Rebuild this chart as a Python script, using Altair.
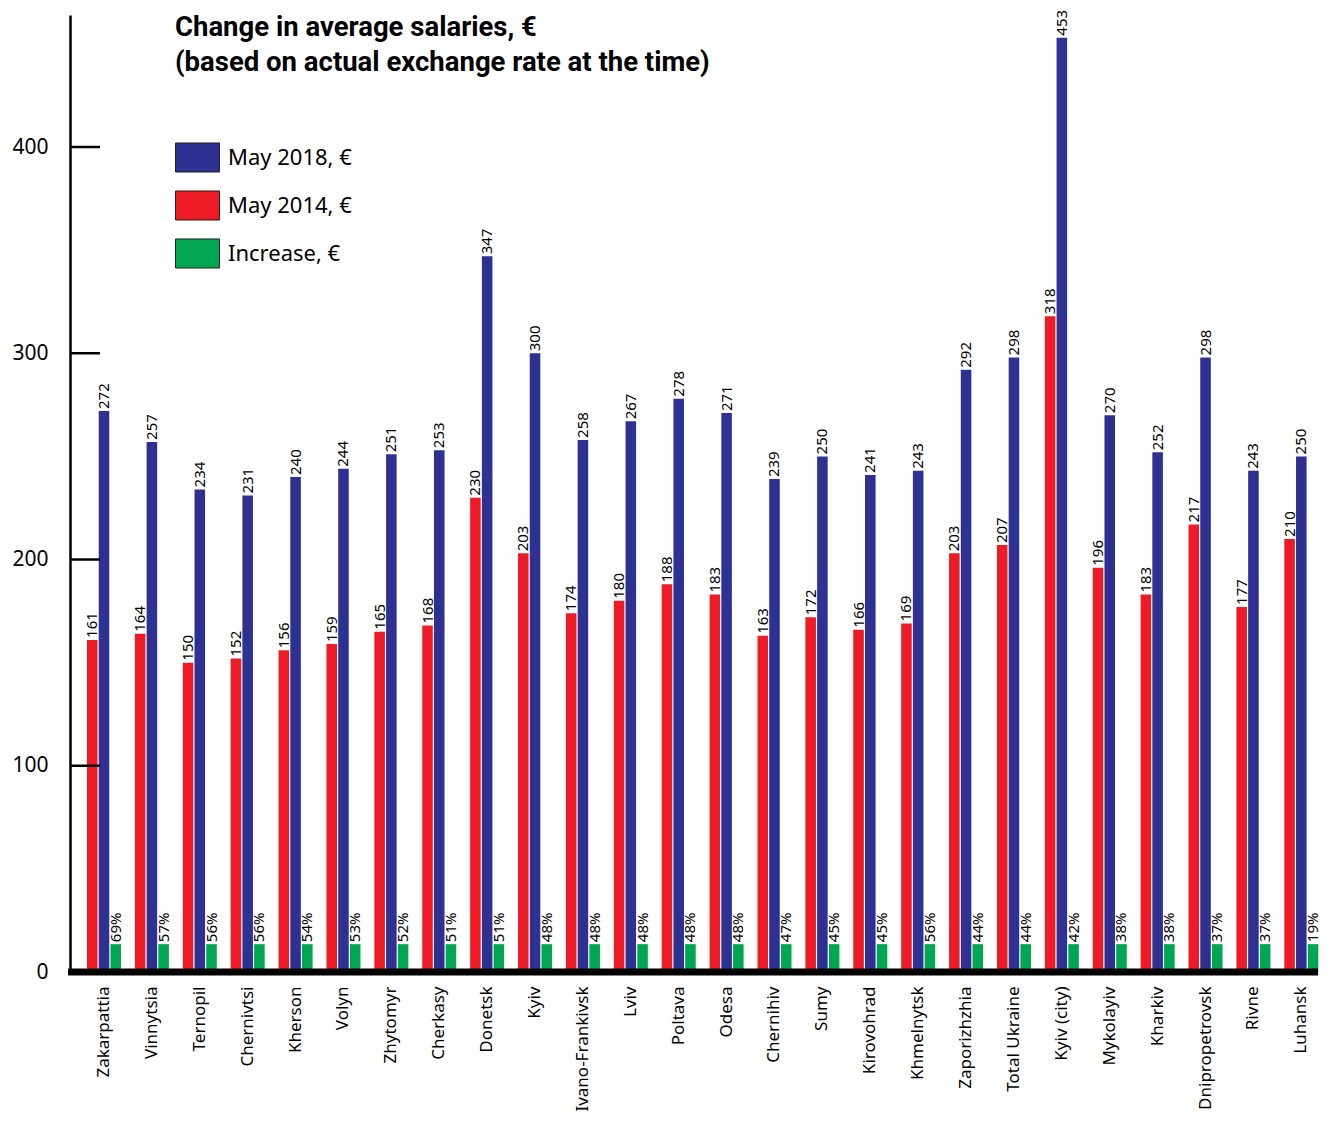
import altair as alt
import pandas as pd

regions = ["Zakarpattia", "Vinnytsia", "Ternopil", "Chernivtsi", "Kherson", "Volyn",
           "Zhytomyr", "Cherkasy", "Donetsk", "Kyiv", "Ivano-Frankivsk", "Lviv", "Poltava",
           "Odesa", "Chernihiv", "Sumy", "Kirovohrad", "Khmelnytsk", "Zaporizhzhia",
           "Total Ukraine", "Kyiv (city)", "Mykolayiv", "Kharkiv", "Dnipropetrovsk",
           "Rivne", "Luhansk"]
may2018 = [272, 257, 234, 231, 240, 244, 251, 253, 347, 300, 258, 267, 278, 271, 239,
           250, 241, 243, 292, 298, 453, 270, 252, 298, 243, 250]
may2014 = [161, 164, 150, 152, 156, 159, 165, 168, 230, 203, 174, 180, 188, 183, 163,
           172, 166, 169, 203, 207, 318, 196, 183, 217, 177, 210]
increase_pct = [69, 57, 56, 56, 54, 53, 52, 51, 51, 48, 48, 48, 48, 48, 47, 45, 45, 56,
                44, 44, 42, 38, 38, 37, 37, 19]
# green bars are drawn at one fixed height in the original
increase_bar = [13.5, 13.5, 13.5, 13.5, 13.5, 13.5, 13.5, 13.5, 13.5, 13.5, 13.5, 13.5, 13.5,
                13.5, 13.5, 13.5, 13.5, 13.5, 13.5, 13.5, 13.5, 13.5, 13.5, 13.5, 13.5, 13.5]
y_ticks = [0, 100, 200, 300, 400]
inner_ticks = [100, 200, 300, 400]
title_lines = ["Change in average salaries, €", "(based on actual exchange rate at the time)"]

S18, S14, SINC = "May 2018, €", "May 2014, €", "Increase, €"
legend_order = [S18, S14, SINC]
bar_order = [S14, S18, SINC]
colors = ["#2E3192", "#ED1C24", "#00A651"]

rows = []
for i, r in enumerate(regions):
    rows.append({"region": r, "series": S14, "value": may2014[i], "label": str(may2014[i])})
    rows.append({"region": r, "series": S18, "value": may2018[i], "label": str(may2018[i])})
    rows.append({"region": r, "series": SINC, "value": increase_bar[i], "label": f"{increase_pct[i]}%"})
df = pd.DataFrame(rows)

FONT = "Noto Sans"
TFONT = "Roboto"
W, H = 1250, 957

x_enc = alt.X("region:N", sort=regions, title=None,
              scale=alt.Scale(paddingInner=0.29, paddingOuter=0.195, align=0.91),
              axis=alt.Axis(domain=False, ticks=False, labelAngle=270, labelFontSize=17,
                            labelFont=FONT, labelColor="black", labelPadding=14,
                            labelOverlap=False, labelLimit=300))
xo_enc = alt.XOffset("series:N", sort=bar_order, scale=alt.Scale(paddingInner=0.1))
y_enc = alt.Y("value:Q", title=None, scale=alt.Scale(domain=[0, 464], nice=False, zero=True),
              axis=alt.Axis(values=y_ticks, grid=False, ticks=False, domain=True,
                            domainColor="black", domainWidth=2.5, labelFontSize=21,
                            labelFont=FONT, labelColor="black", labelPadding=22))

base = alt.Chart(df)

bars = base.mark_bar().encode(
    x=x_enc, xOffset=xo_enc, y=y_enc,
    color=alt.Color("series:N",
                    scale=alt.Scale(domain=legend_order, range=colors),
                    legend=alt.Legend(title=None, orient="none", legendX=105, legendY=120,
                                      symbolType="M-1,-0.66L1,-0.66L1,0.66L-1,0.66Z",
                                      symbolSize=1936, symbolStrokeWidth=1,
                                      symbolStrokeColor="#231f20", symbolOpacity=1,
                                      labelFontSize=22, labelFont=FONT, labelColor="black",
                                      labelOffset=8, rowPadding=8)),
)

labels = base.mark_text(angle=270, align="left", baseline="middle", dx=2,
                        fontSize=15, font=FONT, color="black").encode(
    x=x_enc, xOffset=xo_enc, y=y_enc, text="label:N")

ticks = alt.Chart(pd.DataFrame({"value": inner_ticks})).mark_rule(
    color="black", strokeWidth=2.5).encode(y=y_enc, x=alt.value(0), x2=alt.value(30))

baseline = alt.Chart(pd.DataFrame({"value": [0]})).mark_rule(
    color="black", strokeWidth=7).encode(y=y_enc, x=alt.value(-2), x2=alt.value(1248))

one = pd.DataFrame({"a": [0]})
t1 = alt.Chart(one).mark_text(align="left", baseline="alphabetic", fontSize=27.5,
                              fontWeight="bold", font=TFONT,
                              color="black").encode(
    text=alt.value(title_lines[0]), x=alt.value(105), y=alt.value(21))
t2 = alt.Chart(one).mark_text(align="left", baseline="alphabetic", fontSize=27.5,
                              fontWeight="bold", font=TFONT,
                              color="black").encode(
    text=alt.value(title_lines[1]), x=alt.value(105), y=alt.value(56))

chart = alt.layer(bars, labels, ticks, baseline, t1, t2).properties(
    width=W, height=H,
    autosize=alt.AutoSizeParams(type="none"),
    padding={"left": 62, "top": 7, "right": 2, "bottom": 140},
).configure(background="white").configure_view(stroke=None)

chart.save("out.html", embed_options={"renderer": "svg", "actions": False})
